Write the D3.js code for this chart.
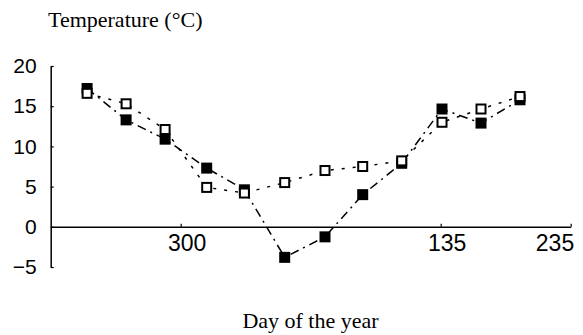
<!DOCTYPE html>
<html>
<head>
<meta charset="utf-8">
<script src="https://cdnjs.cloudflare.com/ajax/libs/d3/7.8.5/d3.min.js"></script>
<style>
  body { margin: 0; background: #fff; }
  svg { display: block; }
</style>
</head>
<body>
<script>
// days counted on from 1 january of the first year (so 380 = day 15 of the next year)
var days = [228, 258, 288, 320, 349, 380, 411, 440, 470, 501, 531, 561];
var filledTemp = [17.2, 13.3, 10.9, 7.3, 4.6, -3.8, -1.25, 4.0, 7.9, 14.65, 12.9, 15.8];
var openTemp = [16.6, 15.3, 12.1, 4.9, 4.2, 5.5, 7.0, 7.5, 8.2, 13.0, 14.65, 16.2];
var xTicks = [300, 500, 600];
var yTicks = [-5, 0, 5, 10, 15, 20];

window.onload = function() {

  var w = 583;
  var h = 335;

  var svg = d3.select("body")
              .append("svg")
              .attr("width", w)
              .attr("height", h);

  // scales
  var xScale = d3.scaleLinear()
                 .domain([200, 600])
                 .range([50.7, 570.7]);

  var yScale = d3.scaleLinear()
                 .domain([-5, 20])
                 .range([267, 66]);

  var filled = days.map(function(d, i) { return [d, filledTemp[i]]; });
  var open = days.map(function(d, i) { return [d, openTemp[i]]; });

  // y axis, ticks pointing inwards
  var yAxis = d3.axisLeft(yScale)
                .tickValues(yTicks)
                .tickSizeInner(-3)
                .tickSizeOuter(0)
                .tickPadding(14);

  var yGuide = svg.append("g")
                  .attr("transform", "translate(" + xScale.range()[0] + ",0)")
                  .call(yAxis);
  yGuide.selectAll("path").attr("stroke", "#000").attr("stroke-width", 1.5);
  yGuide.selectAll("line").attr("stroke", "#000").attr("stroke-width", 1.2);
  yGuide.selectAll("text")
        .attr("font-family", "Liberation Sans, Arial, sans-serif")
        .attr("font-size", "21px")
        .attr("fill", "#000");

  // x axis sits on zero, labels show day of the year
  var xAxis = d3.axisBottom(xScale)
                .tickValues(xTicks)
                .tickFormat(function(d) { return d > 365 ? d - 365 : d; })
                .tickSizeInner(-3)
                .tickSizeOuter(0)
                .tickPadding(8);

  var xGuide = svg.append("g")
                  .attr("transform", "translate(0," + yScale(0) + ")")
                  .call(xAxis);
  xGuide.selectAll("path").attr("stroke", "#000").attr("stroke-width", 1.5);
  xGuide.selectAll("line").attr("stroke", "#000").attr("stroke-width", 1.2);
  xGuide.selectAll("text")
        .attr("font-family", "Liberation Sans, Arial, sans-serif")
        .attr("font-size", "23px")
        .attr("fill", "#000")
        .attr("dx", 6);
  xGuide.selectAll(".tick:last-of-type text")
        .attr("text-anchor", "end")
        .attr("dx", 3);

  // lines
  var line = d3.line()
               .x(function(d) { return xScale(d[0]); })
               .y(function(d) { return yScale(d[1]); });

  svg.append("path")
     .datum(filled)
     .attr("d", line)
     .attr("fill", "none")
     .attr("stroke", "#000")
     .attr("stroke-width", 1.5)
     .attr("stroke-dasharray", "9 5 2 5");

  svg.append("path")
     .datum(open)
     .attr("d", line)
     .attr("fill", "none")
     .attr("stroke", "#000")
     .attr("stroke-width", 1.5)
     .attr("stroke-dasharray", "3 8");

  // markers
  var s = 11;

  svg.selectAll(".filled")
     .data(filled)
     .enter()
     .append("rect")
     .attr("class", "filled")
     .attr("x", function(d) { return xScale(d[0]) - s / 2; })
     .attr("y", function(d) { return yScale(d[1]) - s / 2; })
     .attr("width", s)
     .attr("height", s)
     .attr("fill", "#000");

  svg.selectAll(".open")
     .data(open)
     .enter()
     .append("rect")
     .attr("class", "open")
     .attr("x", function(d) { return xScale(d[0]) - s / 2 + 1; })
     .attr("y", function(d) { return yScale(d[1]) - s / 2 + 1; })
     .attr("width", s - 2)
     .attr("height", s - 2)
     .attr("fill", "#fff")
     .attr("stroke", "#000")
     .attr("stroke-width", 2);

  // titles
  svg.append("text")
     .attr("x", 48)
     .attr("y", 27)
     .attr("font-family", "Liberation Serif, Times New Roman, serif")
     .attr("font-size", "22px")
     .attr("fill", "#000")
     .text("Temperature (°C)");

  svg.append("text")
     .attr("x", 310.5)
     .attr("y", 328)
     .attr("text-anchor", "middle")
     .attr("font-family", "Liberation Serif, Times New Roman, serif")
     .attr("font-size", "22px")
     .attr("fill", "#000")
     .text("Day of the year");
};
</script>
</body>
</html>
